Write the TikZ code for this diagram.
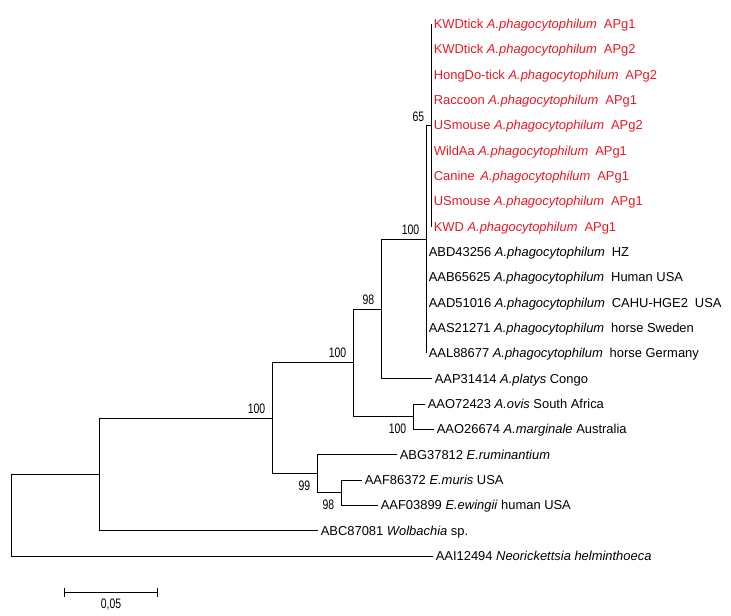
\documentclass[tikz,border=0pt]{standalone}
\usepackage{fontspec}
\setmainfont{Liberation Sans}
\newfontfamily\bsfont[FakeStretch=0.76]{Liberation Sans}
\usetikzlibrary{arrows.meta}
\definecolor{strainred}{RGB}{230,25,35}
\newcommand{\phago}{\textit{A.phagocytophilum}\hspace{5.2pt}}

\begin{document}
\begin{tikzpicture}[
    x=0.75pt, y=-0.75pt,
    leaf/.style={anchor=west, inner xsep=1.9pt, inner ysep=0pt, text height=6.9pt, text depth=0pt, font=\fontsize{9.7}{11}\selectfont},
    redleaf/.style={leaf, text=strainred},
    edge/.style={line width=0.75pt},
    bsup/.style={anchor=south east, inner sep=0pt, font=\bsfont\fontsize{10.3}{11}\selectfont},
    bsdown/.style={anchor=north east, inner sep=0pt, font=\bsfont\fontsize{10.3}{11}\selectfont}
]
\useasboundingbox (0,0) rectangle (731,615);

% ---- leaves ----
\node[redleaf] (l1) at (431,24) {KWDtick \phago APg1};
\node[redleaf] (l2) at (431,49.3) {KWDtick \phago APg2};
\node[redleaf] (l3) at (431,74.7) {HongDo-tick \phago APg2};
\node[redleaf] (l4) at (431,100) {Raccoon \phago APg1};
\node[redleaf] (l5) at (431,125.3) {USmouse \phago APg2};
\node[redleaf] (l6) at (431,150.7) {WildAa \phago APg1};
\node[redleaf] (l7) at (431,176) {Canine\hspace{1.5pt} \phago APg1};
\node[redleaf] (l8) at (431,201.3) {USmouse \phago APg1};
\node[redleaf] (l9) at (431,226.7) {KWD \phago APg1};
\node[leaf] (l10) at (426,252) {ABD43256 \phago HZ};
\node[leaf] (l11) at (426,277.3) {AAB65625 \phago Human USA};
\node[leaf] (l12) at (426,302.7) {AAD51016 \phago CAHU-HGE2\hspace{5.2pt}USA};
\node[leaf] (l13) at (426,328) {AAS21271 \phago horse Sweden};
\node[leaf] (l14) at (426,353.3) {AAL88677 \phago horse Germany};
\node[leaf] (l15) at (432,378.7) {AAP31414 \textit{A.platys} Congo};
\node[leaf] (l16) at (425,404) {AAO72423 \textit{A.ovis} South Africa};
\node[leaf] (l17) at (434,429.3) {AAO26674 \textit{A.marginale} Australia};
\node[leaf] (l18) at (397,454.7) {ABG37812 \textit{E.ruminantium}};
\node[leaf] (l19) at (362,480) {AAF86372 \textit{E.muris} USA};
\node[leaf] (l20) at (378,505.3) {AAF03899 \textit{E.ewingii} human USA};
\node[leaf] (l21) at (318,530.7) {ABC87081 \textit{Wolbachia} sp.};
\node[leaf] (l22) at (433,556) {AAI12494 \textit{Neorickettsia helminthoeca}};

% ---- inner nodes ----
\coordinate (c65) at (431,125.3);
\coordinate (n100a) at (426,239.3);
\coordinate (n98) at (381,309);
\coordinate (n100c) at (413,416.7);
\coordinate (n100b) at (353,362.8);
\coordinate (n99b) at (341,492.7);
\coordinate (n99) at (317,473.7);
\coordinate (n100d) at (272,418.3);
\coordinate (nw) at (99,474.5);
\coordinate (root) at (11,515.3);

% ---- branches ----
\draw[edge] (c65) |- (l1.west);
\draw[edge] (c65) |- (l2.west);
\draw[edge] (c65) |- (l3.west);
\draw[edge] (c65) |- (l4.west);
\draw[edge] (c65) |- (l5.west);
\draw[edge] (c65) |- (l6.west);
\draw[edge] (c65) |- (l7.west);
\draw[edge] (c65) |- (l8.west);
\draw[edge] (c65) |- (l9.west);

\draw[edge] (n100a) |- (c65);
\draw[edge] (n100a) |- (l10.west);
\draw[edge] (n100a) |- (l11.west);
\draw[edge] (n100a) |- (l12.west);
\draw[edge] (n100a) |- (l13.west);
\draw[edge] (n100a) |- (l14.west);

\draw[edge] (n98) |- (n100a);
\draw[edge] (n98) |- (l15.west);

\draw[edge] (n100c) |- (l16.west);
\draw[edge] (n100c) |- (l17.west);

\draw[edge] (n100b) |- (n98);
\draw[edge] (n100b) |- (n100c);

\draw[edge] (n99b) |- (l19.west);
\draw[edge] (n99b) |- (l20.west);

\draw[edge] (n99) |- (l18.west);
\draw[edge] (n99) |- (n99b);

\draw[edge] (n100d) |- (n100b);
\draw[edge] (n100d) |- (n99);

\draw[edge] (nw) |- (n100d);
\draw[edge] (nw) |- (l21.west);

\draw[edge] (root) |- (nw);
\draw[edge] (root) |- (l22.west);

% ---- bootstrap values ----
\node[bsup] (b65) at ([shift={(-6.5,-3.5)}]c65) {65};
\node[bsup] (b100a) at ([shift={(-6.5,-4)}]n100a) {100};
\node[bsup] (b98) at ([shift={(-6.5,-4)}]n98) {98};
\node[bsup] (b100b) at ([shift={(-6.5,-4.5)}]n100b) {100};
\node[bsup] (b100d) at ([shift={(-6.5,-4.5)}]n100d) {100};
\node[bsdown] (b100c) at ([shift={(-6.5,7)}]n100c) {100};
\node[bsdown] (b99) at ([shift={(-6.5,6.5)}]n99) {99};
\node[bsdown] (b98b) at ([shift={(-6.5,7)}]n99b) {98};

% ---- scale bar ----
\coordinate (sbl) at (64,592);
\coordinate (sbr) at (158,592);
\draw[edge, {Bar[width=6.75pt]}-{Bar[width=6.75pt]}] (sbl) -- (sbr)
    node[midway, anchor=north, yshift=-4.5pt, inner sep=0pt, font=\bsfont\fontsize{10.3}{11}\selectfont] (sblabel) {0,05};

\end{tikzpicture}
\end{document}
